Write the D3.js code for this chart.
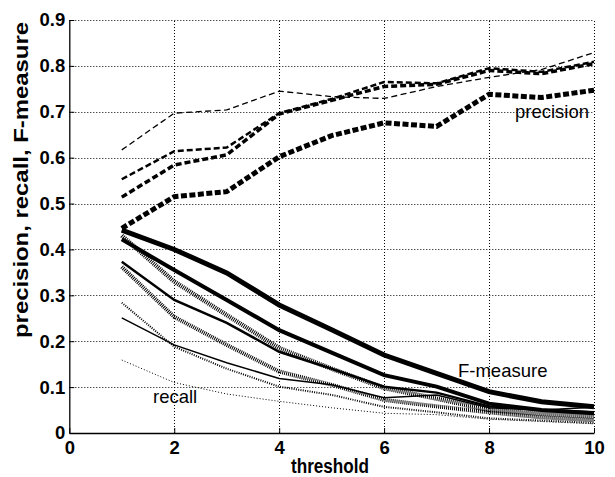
<!DOCTYPE html>
<html>
<head>
<meta charset="utf-8">
<script src="https://cdn.jsdelivr.net/npm/d3@7"></script>
<style>
  body { margin: 0; background: #fff; }
  text { font-family: "Liberation Sans", Arial, sans-serif; }
</style>
</head>
<body>
<div id="chart"></div>
<script>

var thresholds = [1, 2, 3, 4, 5, 6, 7, 8, 9, 10];
var xTicks = [0, 2, 4, 6, 8, 10];
var yTicks = [0, 0.1, 0.2, 0.3, 0.4, 0.5, 0.6, 0.7, 0.8, 0.9];

// precision (dashed), thin to thick
var precision1 = [0.617, 0.697, 0.704, 0.745, 0.733, 0.729, 0.755, 0.775, 0.792, 0.829];
var precision2 = [0.553, 0.614, 0.622, 0.697, 0.728, 0.765, 0.762, 0.795, 0.787, 0.809];
var precision3 = [0.514, 0.584, 0.606, 0.695, 0.725, 0.755, 0.760, 0.790, 0.783, 0.805];
var precision4 = [0.446, 0.515, 0.526, 0.602, 0.648, 0.676, 0.668, 0.738, 0.731, 0.747];

// F-measure (solid), thick to thin
var fmeasure1 = [0.442, 0.400, 0.349, 0.279, 0.225, 0.170, 0.130, 0.090, 0.068, 0.057];
var fmeasure2 = [0.422, 0.355, 0.290, 0.224, 0.175, 0.126, 0.101, 0.064, 0.050, 0.043];
var fmeasure3 = [0.373, 0.290, 0.240, 0.177, 0.140, 0.101, 0.088, 0.058, 0.050, 0.045];
var fmeasure4 = [0.251, 0.192, 0.153, 0.119, 0.105, 0.077, 0.083, 0.055, 0.050, 0.056];

// recall (dotted), thick to thin
var recall1 = [0.430, 0.330, 0.257, 0.185, 0.140, 0.098, 0.075, 0.050, 0.042, 0.036];
var recall2 = [0.362, 0.253, 0.192, 0.134, 0.105, 0.072, 0.058, 0.045, 0.034, 0.028];
var recall3 = [0.284, 0.188, 0.140, 0.101, 0.083, 0.057, 0.045, 0.032, 0.027, 0.022];
var recall4 = [0.159, 0.110, 0.085, 0.069, 0.055, 0.043, 0.040, 0.030, 0.025, 0.020];

var width = 615, height = 477;
// plot box (window.top is reserved, so prefix these)
var plotLeft = 69.3, plotRight = 594, plotTop = 20, plotBottom = 433;

var svg = d3.select("#chart").append("svg")
  .attr("width", width)
  .attr("height", height);

var x = d3.scaleLinear().domain([0, 10]).range([plotLeft, plotRight]);
var y = d3.scaleLinear().domain([0, 0.9]).range([plotBottom, plotTop]);

// dotted grid
var grid = svg.append("g").attr("class", "grid");
grid.selectAll(".vgrid")
  .data(xTicks.slice(1))
  .enter().append("line")
  .attr("x1", function(d) { return Math.round(x(d)) + 0.5; })
  .attr("x2", function(d) { return Math.round(x(d)) + 0.5; })
  .attr("y1", y(0))
  .attr("y2", y(0.9))
  .style("stroke", "#000")
  .style("stroke-width", 1)
  .style("stroke-dasharray", "1,2");
grid.selectAll(".hgrid")
  .data(yTicks.slice(1))
  .enter().append("line")
  .attr("x1", x(0))
  .attr("x2", x(10))
  .attr("y1", function(d) { return Math.round(y(d)) + 0.5; })
  .attr("y2", function(d) { return Math.round(y(d)) + 0.5; })
  .style("stroke", "#000")
  .style("stroke-width", 1)
  .style("stroke-dasharray", "1,2");

var line = d3.line()
  .x(function(d, i) { return x(thresholds[i]); })
  .y(function(d) { return y(d); });

// each series with its line style
var series = [
  { values: precision1, w: 1.3, dash: "6,3.5" },
  { values: precision2, w: 2.5, dash: "6,3" },
  { values: precision3, w: 3.5, dash: "6,3" },
  { values: precision4, w: 5, dash: "6,2.5" },
  { values: recall1, w: 4.5, dash: "1,1" },
  { values: recall2, w: 4, dash: "1,1" },
  { values: recall3, w: 2, dash: "1,1.3" },
  { values: recall4, w: 1, dash: "1,2" },
  { values: fmeasure1, w: 5, dash: null },
  { values: fmeasure2, w: 4, dash: null },
  { values: fmeasure3, w: 2.5, dash: null },
  { values: fmeasure4, w: 1.5, dash: null }
];

svg.append("g").selectAll("path")
  .data(series)
  .enter().append("path")
  .attr("d", function(d) { return line(d.values); })
  .style("fill", "none")
  .style("stroke", "#000")
  .style("stroke-width", function(d) { return d.w; })
  .style("stroke-dasharray", function(d) { return d.dash; })
  .style("stroke-linejoin", "miter");

// axes with inward ticks
var xAxis = d3.axisBottom(x).tickValues(xTicks)
  .tickSizeInner(-5).tickSizeOuter(0).tickPadding(8)
  .tickFormat(d3.format("d"));
var yAxis = d3.axisLeft(y).tickValues(yTicks)
  .tickSizeInner(-5).tickSizeOuter(0).tickPadding(4)
  .tickFormat(function(d) { return d === 0 ? "0" : d3.format(".1f")(d); });

var gx = svg.append("g").attr("transform", "translate(0," + plotBottom + ")").call(xAxis);
var gy = svg.append("g").attr("transform", "translate(" + plotLeft + ",0)").call(yAxis);

[gx, gy].forEach(function(g) {
  g.select(".domain").style("stroke", "#000").style("stroke-width", 1.3);
  g.selectAll(".tick line").style("stroke", "#000").style("stroke-width", 1);
  g.selectAll(".tick text")
    .style("font-family", "'Liberation Sans', Arial, sans-serif")
    .style("font-size", "18.5px")
    .style("font-weight", "bold")
    .style("fill", "#000");
});

// axis titles
svg.append("text")
  .attr("x", 330)
  .attr("y", 473)
  .attr("text-anchor", "middle")
  .attr("textLength", 78)
  .attr("lengthAdjust", "spacingAndGlyphs")
  .style("font-size", "20px")
  .style("font-weight", "bold")
  .text("threshold");

svg.append("text")
  .attr("transform", "translate(28,338) rotate(-90)")
  .attr("text-anchor", "start")
  .attr("textLength", 316)
  .attr("lengthAdjust", "spacingAndGlyphs")
  .style("font-size", "21px")
  .style("font-weight", "bold")
  .text("precision, recall, F-measure");

// curve labels
var notes = [
  { t: "precision", x: 515, y: 118 },
  { t: "F-measure", x: 458, y: 377 },
  { t: "recall", x: 153, y: 403 }
];
svg.selectAll(".note")
  .data(notes)
  .enter().append("text")
  .attr("class", "note")
  .attr("x", function(d) { return d.x; })
  .attr("y", function(d) { return d.y; })
  .style("font-size", "18.5px")
  .text(function(d) { return d.t; });

</script>
</body>
</html>
